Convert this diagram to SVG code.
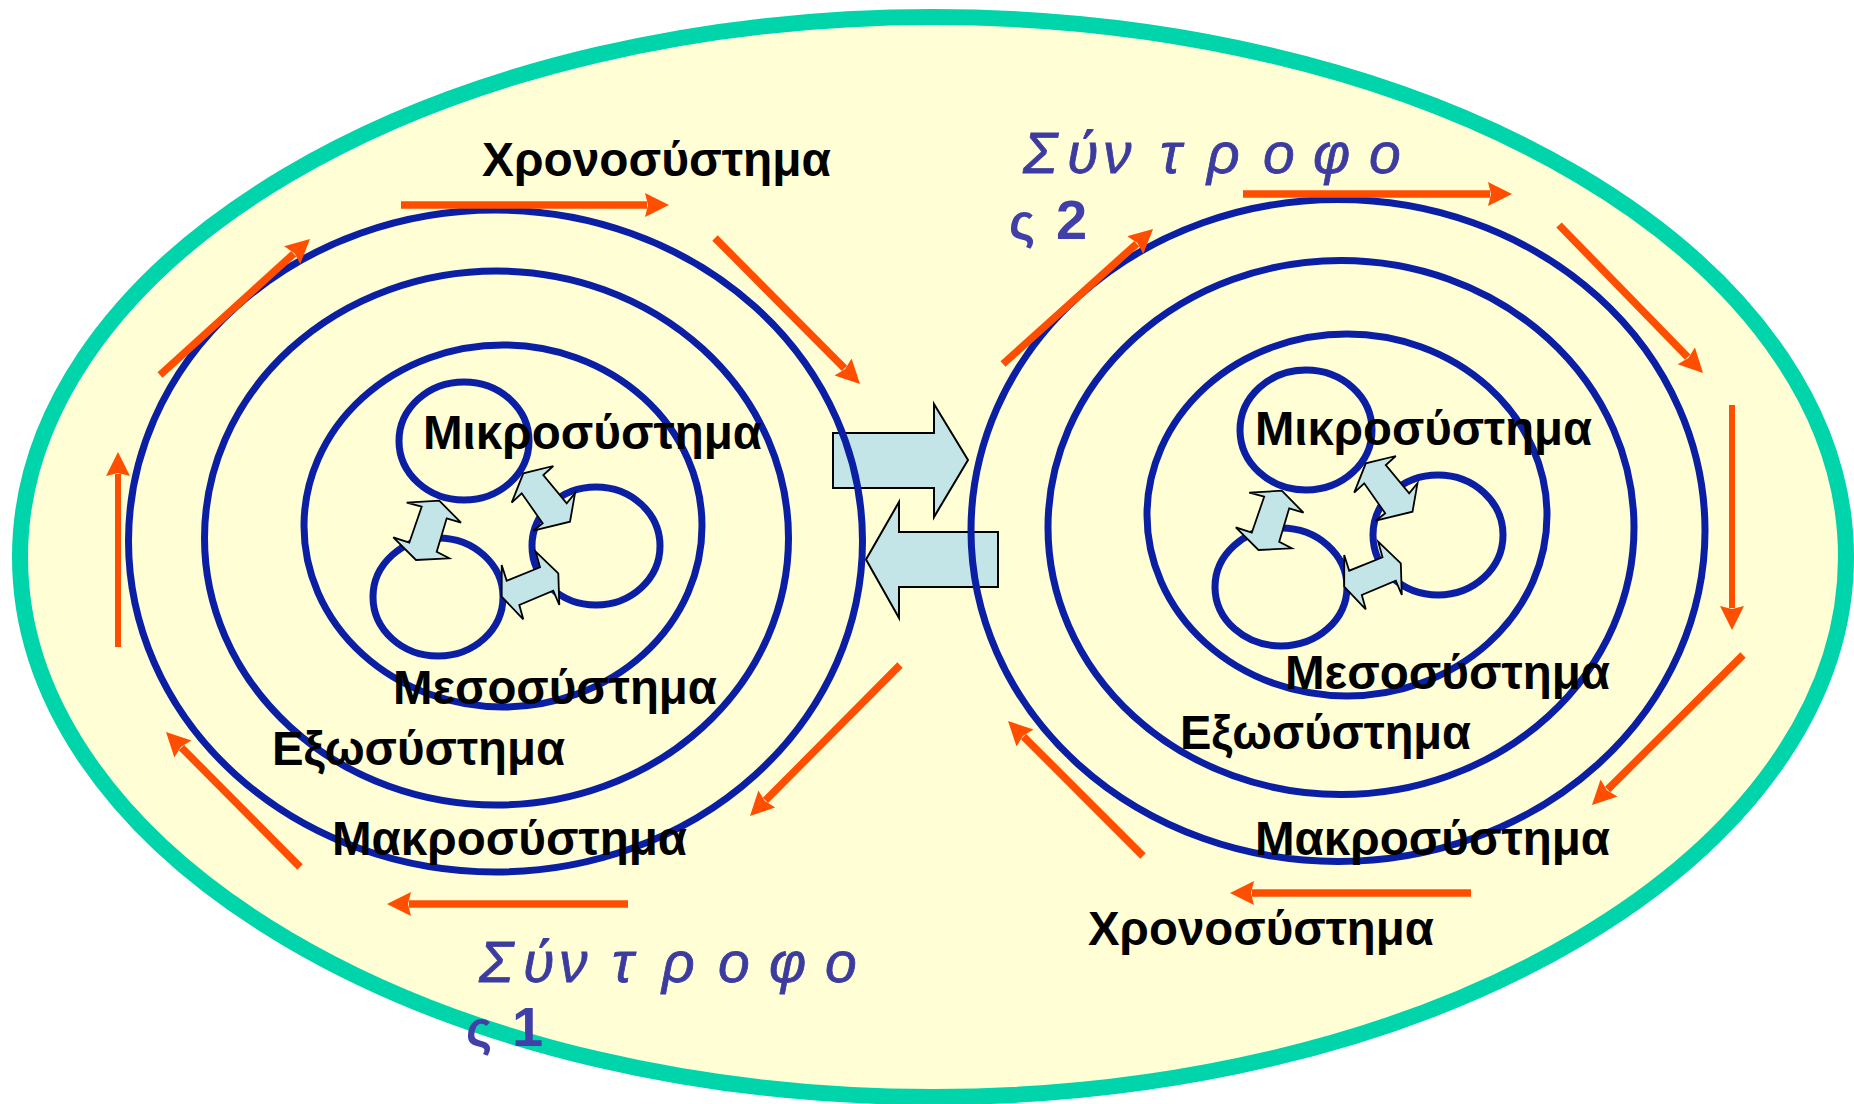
<svg xmlns="http://www.w3.org/2000/svg" width="1854" height="1104" viewBox="0 0 1854 1104">
<defs>
<style>
.ring{fill:none;stroke:#0A1FA3;stroke-width:7}
.orange{stroke:#FF4E00;stroke-width:7.5;fill:none;marker-end:url(#head)}
.orange.thin{stroke-width:6}
.block{fill:#C4E5E8;stroke:#000;stroke-width:2;stroke-linejoin:miter}
.dbl{fill:#C4E5E8;stroke:#000;stroke-width:1.8;stroke-linejoin:miter}
.lbl{font-family:"Liberation Sans",Arial,sans-serif;font-weight:bold;font-size:48px;fill:#000}
.partner{font-family:"Liberation Sans",Arial,sans-serif;font-style:italic;font-size:57px;fill:#3C3CA0;stroke:#3C3CA0;stroke-width:0.8}
.pnum{font-family:"Liberation Sans",Arial,sans-serif;font-weight:bold;font-size:56px;fill:#4040A8}
.sig{font-family:"Liberation Sans",Arial,sans-serif;font-weight:bold;font-size:50px;fill:#4040A8}
</style>
<marker id="head" markerUnits="userSpaceOnUse" markerWidth="28" markerHeight="28" refX="2" refY="12" orient="auto">
<path d="M0,0 L24,12 L0,24 L3,12 Z" fill="#FF4E00"/>
</marker>
</defs>

<g id="environment">
<ellipse cx="933" cy="557" rx="913" ry="540" fill="#FFFED5" stroke="#00D4AA" stroke-width="16"/>
</g>

<g id="exchange-arrows">
<polygon class="block" points="833,433 934,433 934,404 968,460 934,517 934,488 833,488"/>
<polygon class="block" points="998,532 899,532 899,502 866,559.5 899,618 899,587 998,587"/>
</g>

<g id="partner1">
<g id="p1-macrosystem"><ellipse class="ring" cx="495.5" cy="541" rx="367" ry="331"/></g>
<g id="p1-exosystem"><ellipse class="ring" cx="496.5" cy="538" rx="292" ry="267"/></g>
<g id="p1-mesosystem"><ellipse class="ring" cx="503" cy="526" rx="199" ry="181"/></g>
<g id="p1-micro-a"><ellipse class="ring" cx="464" cy="441" rx="65" ry="59"/></g>
<g id="p1-micro-b"><ellipse class="ring" cx="596" cy="546" rx="64" ry="59"/></g>
<g id="p1-micro-c"><ellipse class="ring" cx="438" cy="597" rx="65" ry="59"/></g>
</g>

<g id="partner2">
<g id="p2-macrosystem"><ellipse class="ring" cx="1338" cy="530.5" rx="367" ry="331"/></g>
<g id="p2-exosystem"><ellipse class="ring" cx="1341" cy="527.5" rx="293" ry="267"/></g>
<g id="p2-mesosystem"><ellipse class="ring" cx="1347" cy="515" rx="200" ry="181"/></g>
<g id="p2-micro-a"><ellipse class="ring" cx="1306" cy="430" rx="66" ry="60"/></g>
<g id="p2-micro-b"><ellipse class="ring" cx="1438" cy="535" rx="65" ry="60"/></g>
<g id="p2-micro-c"><ellipse class="ring" cx="1281" cy="587" rx="66" ry="59"/></g>
</g>

<g id="connectors">
<g id="time-arrows-1">
<line class="orange" x1="401" y1="205" x2="647" y2="205"/>
<line class="orange" x1="160" y1="375" x2="293.7" y2="253.8"/>
<line class="orange" x1="715" y1="238" x2="844.5" y2="368.4"/>
<line class="orange thin" x1="118" y1="647" x2="118" y2="474"/>
<line class="orange" x1="300" y1="867" x2="181.5" y2="747.6"/>
<line class="orange" x1="628" y1="904" x2="409" y2="904"/>
<line class="orange" x1="900" y1="665" x2="765.5" y2="800.4"/>
</g>
<g id="time-arrows-2">
<line class="orange" x1="1243" y1="194" x2="1490" y2="194"/>
<line class="orange" x1="1003" y1="364" x2="1136.7" y2="243.7"/>
<line class="orange" x1="1559" y1="225" x2="1687.7" y2="357.2"/>
<line class="orange thin" x1="1732" y1="405" x2="1732" y2="608"/>
<line class="orange" x1="1743" y1="655" x2="1607.6" y2="789.5"/>
<line class="orange" x1="1471" y1="893" x2="1252" y2="893"/>
<line class="orange" x1="1143" y1="856" x2="1023.6" y2="736.6"/>
</g>
<g id="micro-links-1">
<polygon class="dbl" points="406.7,502.7 439.3,500.7 461,522.7 446.7,518.3 436.7,551.7 449.3,558.3 416,560 393.3,537.3 409.3,542.7 421.7,506.7"/>
<polygon class="dbl" points="511.7,502.7 523.3,473.3 553.3,466 543.3,475 566.7,503.3 575,493.3 570,521.7 533.3,530.7 542.7,523.3 521.7,493.3"/>
<polygon class="dbl" points="501.7,565 506.7,580.7 540,567.3 535.7,551.7 558.3,573.3 559.3,605 553.3,590.7 519.3,605 523.3,619.3 501.7,596.7"/>
</g>
<g id="micro-links-2" transform="translate(842.5,-10)">
<polygon class="dbl" points="406.7,502.7 439.3,500.7 461,522.7 446.7,518.3 436.7,551.7 449.3,558.3 416,560 393.3,537.3 409.3,542.7 421.7,506.7"/>
<polygon class="dbl" points="511.7,502.7 523.3,473.3 553.3,466 543.3,475 566.7,503.3 575,493.3 570,521.7 533.3,530.7 542.7,523.3 521.7,493.3"/>
<polygon class="dbl" points="501.7,565 506.7,580.7 540,567.3 535.7,551.7 558.3,573.3 559.3,605 553.3,590.7 519.3,605 523.3,619.3 501.7,596.7"/>
</g>
</g>

<g id="labels">
<text class="lbl" x="482" y="176" textLength="349" lengthAdjust="spacingAndGlyphs">Χρονοσύστημα</text>
<text class="lbl" x="423" y="449" textLength="339" lengthAdjust="spacingAndGlyphs">Μικροσύστημα</text>
<text class="lbl" x="393" y="704" textLength="324" lengthAdjust="spacingAndGlyphs">Μεσοσύστημα</text>
<text class="lbl" x="272" y="765" textLength="293" lengthAdjust="spacingAndGlyphs">Εξωσύστημα</text>
<text class="lbl" x="332" y="855" textLength="355" lengthAdjust="spacingAndGlyphs">Μακροσύστημα</text>

<text class="lbl" x="1255" y="445" textLength="337" lengthAdjust="spacingAndGlyphs">Μικροσύστημα</text>
<text class="lbl" x="1285" y="689" textLength="325" lengthAdjust="spacingAndGlyphs">Μεσοσύστημα</text>
<text class="lbl" x="1180" y="749" textLength="291" lengthAdjust="spacingAndGlyphs">Εξωσύστημα</text>
<text class="lbl" x="1255" y="855" textLength="355" lengthAdjust="spacingAndGlyphs">Μακροσύστημα</text>
<text class="lbl" x="1088" y="945" textLength="346" lengthAdjust="spacingAndGlyphs">Χρονοσύστημα</text>

<text class="partner" x="479 523 559 612 662 718 769 825" y="982">Σύντροφο</text>
<text class="sig" x="466" y="1046">ς</text>
<text class="pnum" x="512" y="1046">1</text>

<text class="partner" x="1023 1067 1103 1160 1207 1263 1313 1369" y="173">Σύντροφο</text>
<text class="sig" x="1009" y="239">ς</text>
<text class="pnum" x="1056" y="239">2</text>
</g>
</svg>
